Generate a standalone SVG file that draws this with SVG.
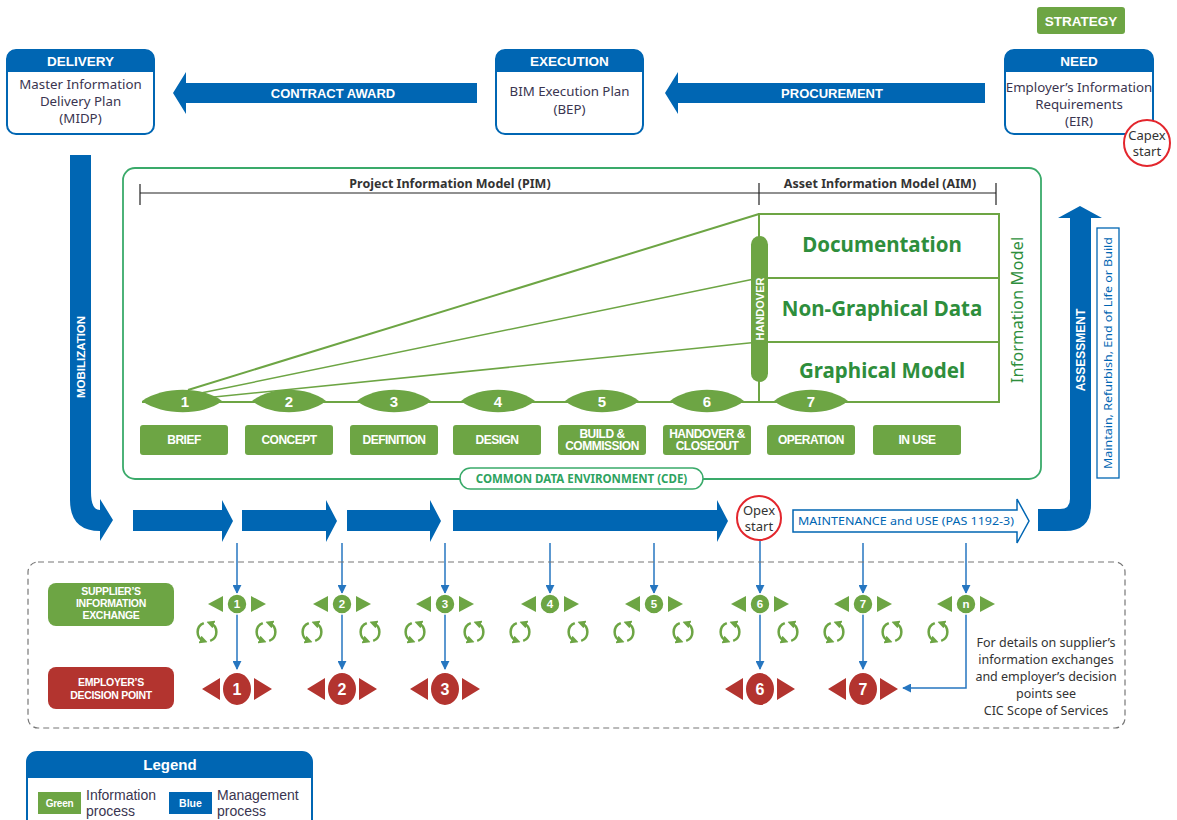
<svg xmlns="http://www.w3.org/2000/svg" width="1177" height="820" viewBox="0 0 1177 820">
<defs>
<style>
.hb{font-family:"Liberation Sans",Arial,sans-serif;font-weight:bold;fill:#fff;text-anchor:middle}
.tx{font-family:"Noto Sans","Liberation Sans",sans-serif;fill:#3a3550;text-anchor:middle}
.bl{fill:#0066b3}
.gr{fill:#6da544}
.rd{fill:#b3342f}
.box{fill:#fff;stroke:#0066b3;stroke-width:2}
.gl{stroke:#6da544;fill:none}
.dg{font-family:"Noto Sans","Liberation Sans",sans-serif;font-weight:bold;fill:#2e8e3c;text-anchor:middle;font-size:20.5px}
.ph{font-family:"Liberation Sans",Arial,sans-serif;font-weight:bold;fill:#fff;text-anchor:middle;font-size:12px;letter-spacing:-0.5px}
.sl{stroke:#2676c0;stroke-width:1.5;fill:none;marker-end:url(#ah)}
.cy{stroke:#6da544;stroke-width:2.5;fill:none;marker-end:url(#ga)}
.num{font-family:"Liberation Sans",Arial,sans-serif;font-weight:bold;fill:#fff;text-anchor:middle}
.lg{font-family:"Liberation Sans",Arial,sans-serif;font-size:14px;fill:#3a3550}
</style>
<marker id="ah" viewBox="0 0 10 10" refX="9" refY="5" markerWidth="9" markerHeight="9" markerUnits="userSpaceOnUse" orient="auto"><path d="M0,0 L10,5 L0,10 Z" fill="#2676c0"/></marker>
<marker id="ga" viewBox="0 0 10 10" refX="5" refY="5" markerWidth="8" markerHeight="8" markerUnits="userSpaceOnUse" orient="auto"><path d="M0,0 L10,5 L0,10 Z" fill="#6da544"/></marker>
<g id="cyc">
<path class="cy" d="M-3.2,-8.9 A9.5,9.5 0 0 0 -3.2,8.9"/>
<path class="cy" d="M3.2,8.9 A9.5,9.5 0 0 0 3.2,-8.9"/>
</g>
</defs>
<rect width="1177" height="820" fill="#fff"/>

<!-- connectors / process arrows -->
<g id="connectors">
<path class="bl" d="M173,93 L186,72 V83 H477 V103 H186 V114 Z"/>
<text class="hb" x="333" y="98" font-size="13">CONTRACT AWARD</text>
<path class="bl" d="M665,93 L678,72 V83 H985 V103 H678 V114 Z"/>
<text class="hb" x="832" y="98" font-size="13">PROCUREMENT</text>
<path class="bl" d="M70,155 H91 V492 Q91,510 100,510 V499 L113,520 L100,541 V531 Q70,531 70,500 Z"/>
<text class="hb" font-size="11.5" transform="translate(85,357) rotate(-90)">MOBILIZATION</text>
<path class="bl" d="M133,510 H222 V500 L233,521 L222,542 V531 H133 Z"/>
<path class="bl" d="M242,510 H326 V500 L337,521 L326,542 V531 H242 Z"/>
<path class="bl" d="M347,510 H430 V500 L441,521 L430,542 V531 H347 Z"/>
<path class="bl" d="M453,510 H717 V500 L728,521 L717,542 V531 H453 Z"/>
<path d="M793,510 H1017 V499 L1029,521 L1017,543 V532 H793 Z" fill="#fff" stroke="#0066b3" stroke-width="1.5"/>
<text x="798" y="525" font-family="Noto Sans, Liberation Sans, sans-serif" font-size="11.5" fill="#0066b3" textLength="216" lengthAdjust="spacingAndGlyphs">MAINTENANCE and USE (PAS 1192-3)</text>
<path class="bl" d="M1038,509 H1060 Q1070,509 1070,499 V218 H1058 L1080,206 L1102,218 H1091 V505 Q1091,531 1065,531 H1038 Z"/>
<text class="hb" font-size="12" transform="translate(1085,350) rotate(-90)">ASSESSMENT</text>
<rect x="1097" y="228" width="22" height="250" fill="#fff" stroke="#0066b3" stroke-width="1.3"/>
<text transform="translate(1112,353) rotate(-90)" text-anchor="middle" font-family="Noto Sans, Liberation Sans, sans-serif" font-size="11.5" fill="#0066b3" textLength="232" lengthAdjust="spacingAndGlyphs">Maintain, Refurbish, End of Life or Build</text>
<!-- small blue arrows -->
<path class="sl" d="M237,543 V593"/>
<path class="sl" d="M342,543 V593"/>
<path class="sl" d="M445,543 V593"/>
<path class="sl" d="M550,543 V593"/>
<path class="sl" d="M654,543 V593"/>
<path class="sl" d="M760,541 V593"/>
<path class="sl" d="M863,543 V593"/>
<path class="sl" d="M966,543 V593"/>
<path class="sl" d="M237,614 V669"/>
<path class="sl" d="M342,614 V669"/>
<path class="sl" d="M445,614 V669"/>
<path class="sl" d="M760,614 V669"/>
<path class="sl" d="M863,614 V669"/>
<path class="sl" d="M966,614 V688 H903"/>
</g>

<g id="strategy">
<rect x="1037" y="7" width="88" height="27" rx="3" class="gr"/>
<text class="hb" x="1081" y="26" font-size="13.5">STRATEGY</text>
</g>
<g id="delivery">
<rect x="7" y="50" width="147" height="84" rx="9" class="box"/>
<path d="M7,72 V59 Q7,50 16,50 H145 Q154,50 154,59 V72 Z" class="bl"/>
<text class="hb" x="80.5" y="66" font-size="13.5">DELIVERY</text>
<text class="tx" font-size="13.3"><tspan x="80.5" y="89">Master Information</tspan><tspan x="80.5" y="106">Delivery Plan</tspan><tspan x="80.5" y="123">(MIDP)</tspan></text>
</g>
<g id="execution">
<rect x="496" y="50" width="147" height="84" rx="9" class="box"/>
<path d="M496,72 V59 Q496,50 505,50 H634 Q643,50 643,59 V72 Z" class="bl"/>
<text class="hb" x="569.5" y="66" font-size="13.5">EXECUTION</text>
<text class="tx" font-size="13.3"><tspan x="569.5" y="96">BIM Execution Plan</tspan><tspan x="569.5" y="114">(BEP)</tspan></text>
</g>
<g id="need">
<rect x="1005" y="50" width="148" height="84" rx="9" class="box"/>
<path d="M1005,72 V59 Q1005,50 1014,50 H1144 Q1153,50 1153,59 V72 Z" class="bl"/>
<text class="hb" x="1079" y="66" font-size="13.5">NEED</text>
<text class="tx" font-size="13.3"><tspan x="1079" y="92">Employer’s Information</tspan><tspan x="1079" y="109">Requirements</tspan><tspan x="1079" y="126">(EIR)</tspan></text>
</g>
<g id="capex">
<circle cx="1147" cy="143" r="23" fill="#fff" stroke="#e3262d" stroke-width="2"/>
<text class="tx" font-size="13"><tspan x="1147" y="140" fill="#333">Capex</tspan><tspan x="1147" y="156" fill="#333">start</tspan></text>
</g>
<g id="opex">
<circle cx="759" cy="518" r="22" fill="#fff" stroke="#e3262d" stroke-width="2"/>
<text class="tx" font-size="13"><tspan x="759" y="515" fill="#333">Opex</tspan><tspan x="759" y="531" fill="#333">start</tspan></text>
</g>

<g id="cde">
<rect x="123" y="168" width="918" height="311" rx="12" fill="none" stroke="#3aaa6a" stroke-width="1.8"/>
<rect x="460" y="468" width="243" height="21" rx="10.5" fill="#fff" stroke="#3aaa6a" stroke-width="1.5"/>
<text x="581.5" y="483" text-anchor="middle" font-family="Noto Sans, Liberation Sans, sans-serif" font-size="11.5" font-weight="bold" fill="#2ea35f">COMMON DATA ENVIRONMENT (CDE)</text>
<g stroke="#222" stroke-width="1.2">
<line x1="140" y1="193" x2="996" y2="193"/>
<line x1="140" y1="184" x2="140" y2="205"/>
<line x1="759" y1="183" x2="759" y2="205"/>
<line x1="996" y1="183" x2="996" y2="205"/>
</g>
<text x="450" y="188" text-anchor="middle" font-family="Noto Sans, Liberation Sans, sans-serif" font-size="12.5" font-weight="bold" fill="#333">Project Information Model (PIM)</text>
<text x="880" y="188" text-anchor="middle" font-family="Noto Sans, Liberation Sans, sans-serif" font-size="12.5" font-weight="bold" fill="#333">Asset Information Model (AIM)</text>
</g>

<g id="information-model">
<rect x="759" y="214" width="240" height="188" class="gl" stroke-width="2"/>
<line x1="759" y1="278" x2="999" y2="278" class="gl" stroke-width="2"/>
<line x1="759" y1="342" x2="999" y2="342" class="gl" stroke-width="2"/>
<line x1="188" y1="390" x2="759" y2="214" class="gl" stroke-width="2"/>
<line x1="201" y1="393" x2="759" y2="278" class="gl" stroke-width="1.5"/>
<line x1="214" y1="397" x2="759" y2="342" class="gl" stroke-width="1.5"/>
<line x1="142" y1="402" x2="999" y2="402" class="gl" stroke-width="2"/>
<text class="dg" x="882" y="252">Documentation</text>
<text class="dg" x="882" y="316">Non-Graphical Data</text>
<text class="dg" x="882" y="378">Graphical Model</text>
<text transform="translate(1023,310) rotate(-90)" text-anchor="middle" font-family="Noto Sans, Liberation Sans, sans-serif" font-size="16.5" fill="#2e8e3c">Information Model</text>
</g>
<g id="handover">
<rect x="751" y="236" width="17" height="146" rx="8.5" class="gr"/>
<text class="hb" font-size="11" transform="translate(763.5,309) rotate(-90)">HANDOVER</text>
</g>

<g id="stages">
<path class="gr" d="M142,401 C163,386 203,386 222,401 C203,416 163,416 142,401 Z"/>
<path class="gr" d="M252,401 C271,386 307,386 326,401 C307,416 271,416 252,401 Z"/>
<path class="gr" d="M357,401 C376,386 412,386 431,401 C412,416 376,416 357,401 Z"/>
<path class="gr" d="M461,401 C480,386 516,386 535,401 C516,416 480,416 461,401 Z"/>
<path class="gr" d="M565,401 C584,386 620,386 639,401 C620,416 584,416 565,401 Z"/>
<path class="gr" d="M670,401 C689,386 725,386 744,401 C725,416 689,416 670,401 Z"/>
<path class="gr" d="M774,401 C793,386 829,386 848,401 C829,416 793,416 774,401 Z"/>
<g class="num" font-size="15">
<text x="185" y="407">1</text><text x="289" y="407">2</text><text x="394" y="407">3</text><text x="498" y="407">4</text><text x="602" y="407">5</text><text x="707" y="407">6</text><text x="811" y="407">7</text>
</g>
</g>

<g id="phases">
<rect x="140" y="425" width="88" height="30" rx="3" class="gr"/><text class="ph" x="184" y="444">BRIEF</text>
<rect x="245" y="425" width="88" height="30" rx="3" class="gr"/><text class="ph" x="289" y="444">CONCEPT</text>
<rect x="350" y="425" width="88" height="30" rx="3" class="gr"/><text class="ph" x="394" y="444">DEFINITION</text>
<rect x="453" y="425" width="88" height="30" rx="3" class="gr"/><text class="ph" x="497" y="444">DESIGN</text>
<rect x="558" y="425" width="88" height="30" rx="3" class="gr"/><text class="ph" font-size="11"><tspan x="602" y="438">BUILD &amp;</tspan><tspan x="602" y="450">COMMISSION</tspan></text>
<rect x="663" y="425" width="88" height="30" rx="3" class="gr"/><text class="ph" font-size="11"><tspan x="707" y="438">HANDOVER &amp;</tspan><tspan x="707" y="450">CLOSEOUT</tspan></text>
<rect x="767" y="425" width="88" height="30" rx="3" class="gr"/><text class="ph" x="811" y="444">OPERATION</text>
<rect x="873" y="425" width="88" height="30" rx="3" class="gr"/><text class="ph" x="917" y="444">IN USE</text>
</g>

<g id="exchange-panel">
<rect x="28" y="562" width="1097" height="166" rx="10" fill="none" stroke="#777" stroke-width="1.2" stroke-dasharray="6,4"/>
<rect x="48" y="583" width="126" height="43" rx="8" class="gr"/>
<text class="hb" font-size="10.5" letter-spacing="-0.3"><tspan x="111" y="595">SUPPLIER’S</tspan><tspan x="111" y="607">INFORMATION</tspan><tspan x="111" y="619">EXCHANGE</tspan></text>
<rect x="48" y="667" width="126" height="42" rx="8" class="rd"/>
<text class="hb" font-size="10.5" letter-spacing="-0.3"><tspan x="111" y="686">EMPLOYER’S</tspan><tspan x="111" y="699">DECISION POINT</tspan></text>
</g>

<g id="supplier-exchanges">
<g class="gr">
<path d="M208,604 L223,596 V612 Z M266,604 L251,596 V612 Z"/>
<path d="M313,604 L328,596 V612 Z M371,604 L356,596 V612 Z"/>
<path d="M416,604 L431,596 V612 Z M474,604 L459,596 V612 Z"/>
<path d="M521,604 L536,596 V612 Z M579,604 L564,596 V612 Z"/>
<path d="M625,604 L640,596 V612 Z M683,604 L668,596 V612 Z"/>
<path d="M731,604 L746,596 V612 Z M789,604 L774,596 V612 Z"/>
<path d="M834,604 L849,596 V612 Z M892,604 L877,596 V612 Z"/>
<path d="M937,604 L952,596 V612 Z M995,604 L980,596 V612 Z"/>
</g>
<g class="gr" stroke="#fff" stroke-width="1.5">
<circle cx="237" cy="604" r="10"/><circle cx="342" cy="604" r="10"/><circle cx="445" cy="604" r="10"/><circle cx="550" cy="604" r="10"/><circle cx="654" cy="604" r="10"/><circle cx="760" cy="604" r="10"/><circle cx="863" cy="604" r="10"/><circle cx="966" cy="604" r="10"/>
</g>
<g class="num" font-size="11.5">
<text x="237" y="608">1</text><text x="342" y="608">2</text><text x="445" y="608">3</text><text x="550" y="608">4</text><text x="654" y="608">5</text><text x="760" y="608">6</text><text x="863" y="608">7</text><text x="966" y="608">n</text>
</g>
<use href="#cyc" x="207" y="632"/><use href="#cyc" x="266" y="632"/>
<use href="#cyc" x="312" y="632"/><use href="#cyc" x="370" y="632"/>
<use href="#cyc" x="415" y="632"/><use href="#cyc" x="474" y="632"/>
<use href="#cyc" x="520" y="632"/><use href="#cyc" x="578" y="632"/>
<use href="#cyc" x="624" y="632"/><use href="#cyc" x="683" y="632"/>
<use href="#cyc" x="730" y="632"/><use href="#cyc" x="788" y="632"/>
<use href="#cyc" x="834" y="632"/><use href="#cyc" x="892" y="632"/>
<use href="#cyc" x="938" y="632"/>
</g>

<g id="decision-points">
<g class="rd">
<path d="M202,689 L220,678 V700 Z M272,689 L254,678 V700 Z"/>
<path d="M307,689 L325,678 V700 Z M377,689 L359,678 V700 Z"/>
<path d="M410,689 L428,678 V700 Z M480,689 L462,678 V700 Z"/>
<path d="M725,689 L743,678 V700 Z M795,689 L777,678 V700 Z"/>
<path d="M828,689 L846,678 V700 Z M898,689 L880,678 V700 Z"/>
</g>
<g class="rd" stroke="#fff" stroke-width="2">
<ellipse cx="237" cy="689" rx="15" ry="17"/><ellipse cx="342" cy="689" rx="15" ry="17"/><ellipse cx="445" cy="689" rx="15" ry="17"/><ellipse cx="760" cy="689" rx="15" ry="17"/><ellipse cx="863" cy="689" rx="15" ry="17"/>
</g>
<g class="num" font-size="16">
<text x="237" y="695">1</text><text x="342" y="695">2</text><text x="445" y="695">3</text><text x="760" y="695">6</text><text x="863" y="695">7</text>
</g>
</g>

<g id="note">
<text class="tx" font-size="12.5"><tspan x="1046" y="647" fill="#333">For details on supplier’s</tspan><tspan x="1046" y="664" fill="#333">information exchanges</tspan><tspan x="1046" y="681" fill="#333">and employer’s decision</tspan><tspan x="1046" y="698" fill="#333">points see</tspan><tspan x="1046" y="715" fill="#333">CIC Scope of Services</tspan></text>
</g>

<g id="legend">
<rect x="27" y="752" width="285" height="80" rx="10" class="box"/>
<path d="M27,778 V762 Q27,752 37,752 H302 Q312,752 312,762 V778 Z" class="bl"/>
<text class="hb" x="170" y="770" font-size="15">Legend</text>
<rect x="38" y="792" width="43" height="22" class="gr"/>
<text class="hb" x="59.5" y="807" font-size="10" letter-spacing="-0.3">Green</text>
<text class="lg" x="86" y="800">Information</text>
<text class="lg" x="86" y="816">process</text>
<rect x="169" y="792" width="43" height="22" class="bl"/>
<text class="hb" x="190.5" y="807" font-size="10.5">Blue</text>
<text class="lg" x="217" y="800">Management</text>
<text class="lg" x="217" y="816">process</text>
</g>
</svg>
